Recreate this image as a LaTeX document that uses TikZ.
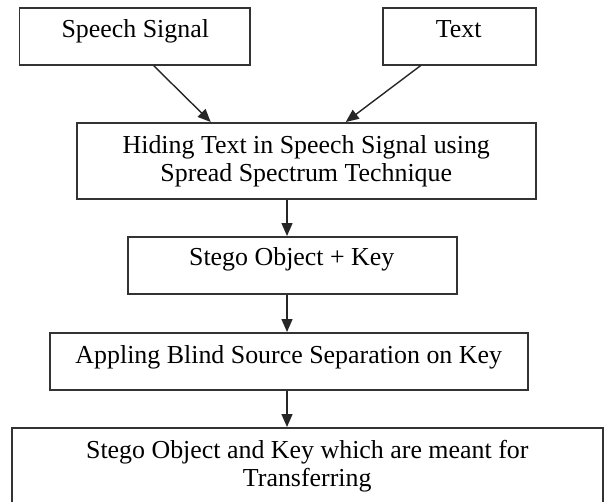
\documentclass[tikz,border=0pt]{standalone}
\usepackage{fontspec}
\setmainfont{Liberation Serif}
\usetikzlibrary{arrows.meta}
\begin{document}
\begin{tikzpicture}[x=1pt,y=1pt,
  box/.style={draw=black!80, line width=1.5pt, inner sep=0pt, anchor=north west},
  lbl/.style={anchor=base, inner sep=0pt, font=\fontsize{25.9}{28}\selectfont},
  arr/.style={draw=black!85, line width=1.4pt, -{Triangle[length=13pt,width=11pt]}}]
\useasboundingbox (0,0) rectangle (604,-501);
\node[box, minimum width=230.5pt, minimum height=57pt] (speech) at (18.5,-7) {};
\node[box, minimum width=153pt, minimum height=57pt] (txtbox) at (382,-7) {};
\node[box, minimum width=459pt, minimum height=76pt] (hide) at (76,-122) {};
\node[box, minimum width=329pt, minimum height=57pt] (stego) at (127,-236) {};
\node[box, minimum width=478pt, minimum height=57pt] (bss) at (49,-332) {};
\node[box, minimum width=591pt, minimum height=90pt] (out) at (11,-427) {};
\coordinate (axis) at (287,0);

\node[lbl] (speechl) at ([xshift=0.75pt,yshift=-30pt]speech.north) {Speech Signal};
\node[lbl] (txtl) at ([xshift=-0.5pt,yshift=-30pt]txtbox.north) {Text};
\node[lbl] (hidel) at ([yshift=-31pt]hide.north) {\begin{tabular}[t]{@{}c@{}}Hiding Text in Speech Signal using\\ Spread Spectrum Technique\end{tabular}};
\node[lbl] (stegol) at ([xshift=-0.5pt,yshift=-29.7pt]stego.north) {Stego Object + Key};
\node[lbl] (bssl) at ([yshift=-31pt]bss.north) {Appling Blind Source Separation on Key};
\node[lbl] (outl) at ([yshift=-31pt]out.north) {\begin{tabular}[t]{@{}c@{}}Stego Object and Key which are meant for\\ Transferring\end{tabular}};

\draw[arr] ([xshift=19pt]speech.south) -- ([xshift=-95.5pt]hide.north);
\draw[arr] ([xshift=-38.5pt]txtbox.south) -- ([xshift=39.5pt]hide.north);
\draw[arr] (hide.south -| axis) -- (stego.north -| axis);
\draw[arr] (stego.south -| axis) -- (bss.north -| axis);
\draw[arr] (bss.south -| axis) -- (out.north -| axis);
\end{tikzpicture}
\end{document}
